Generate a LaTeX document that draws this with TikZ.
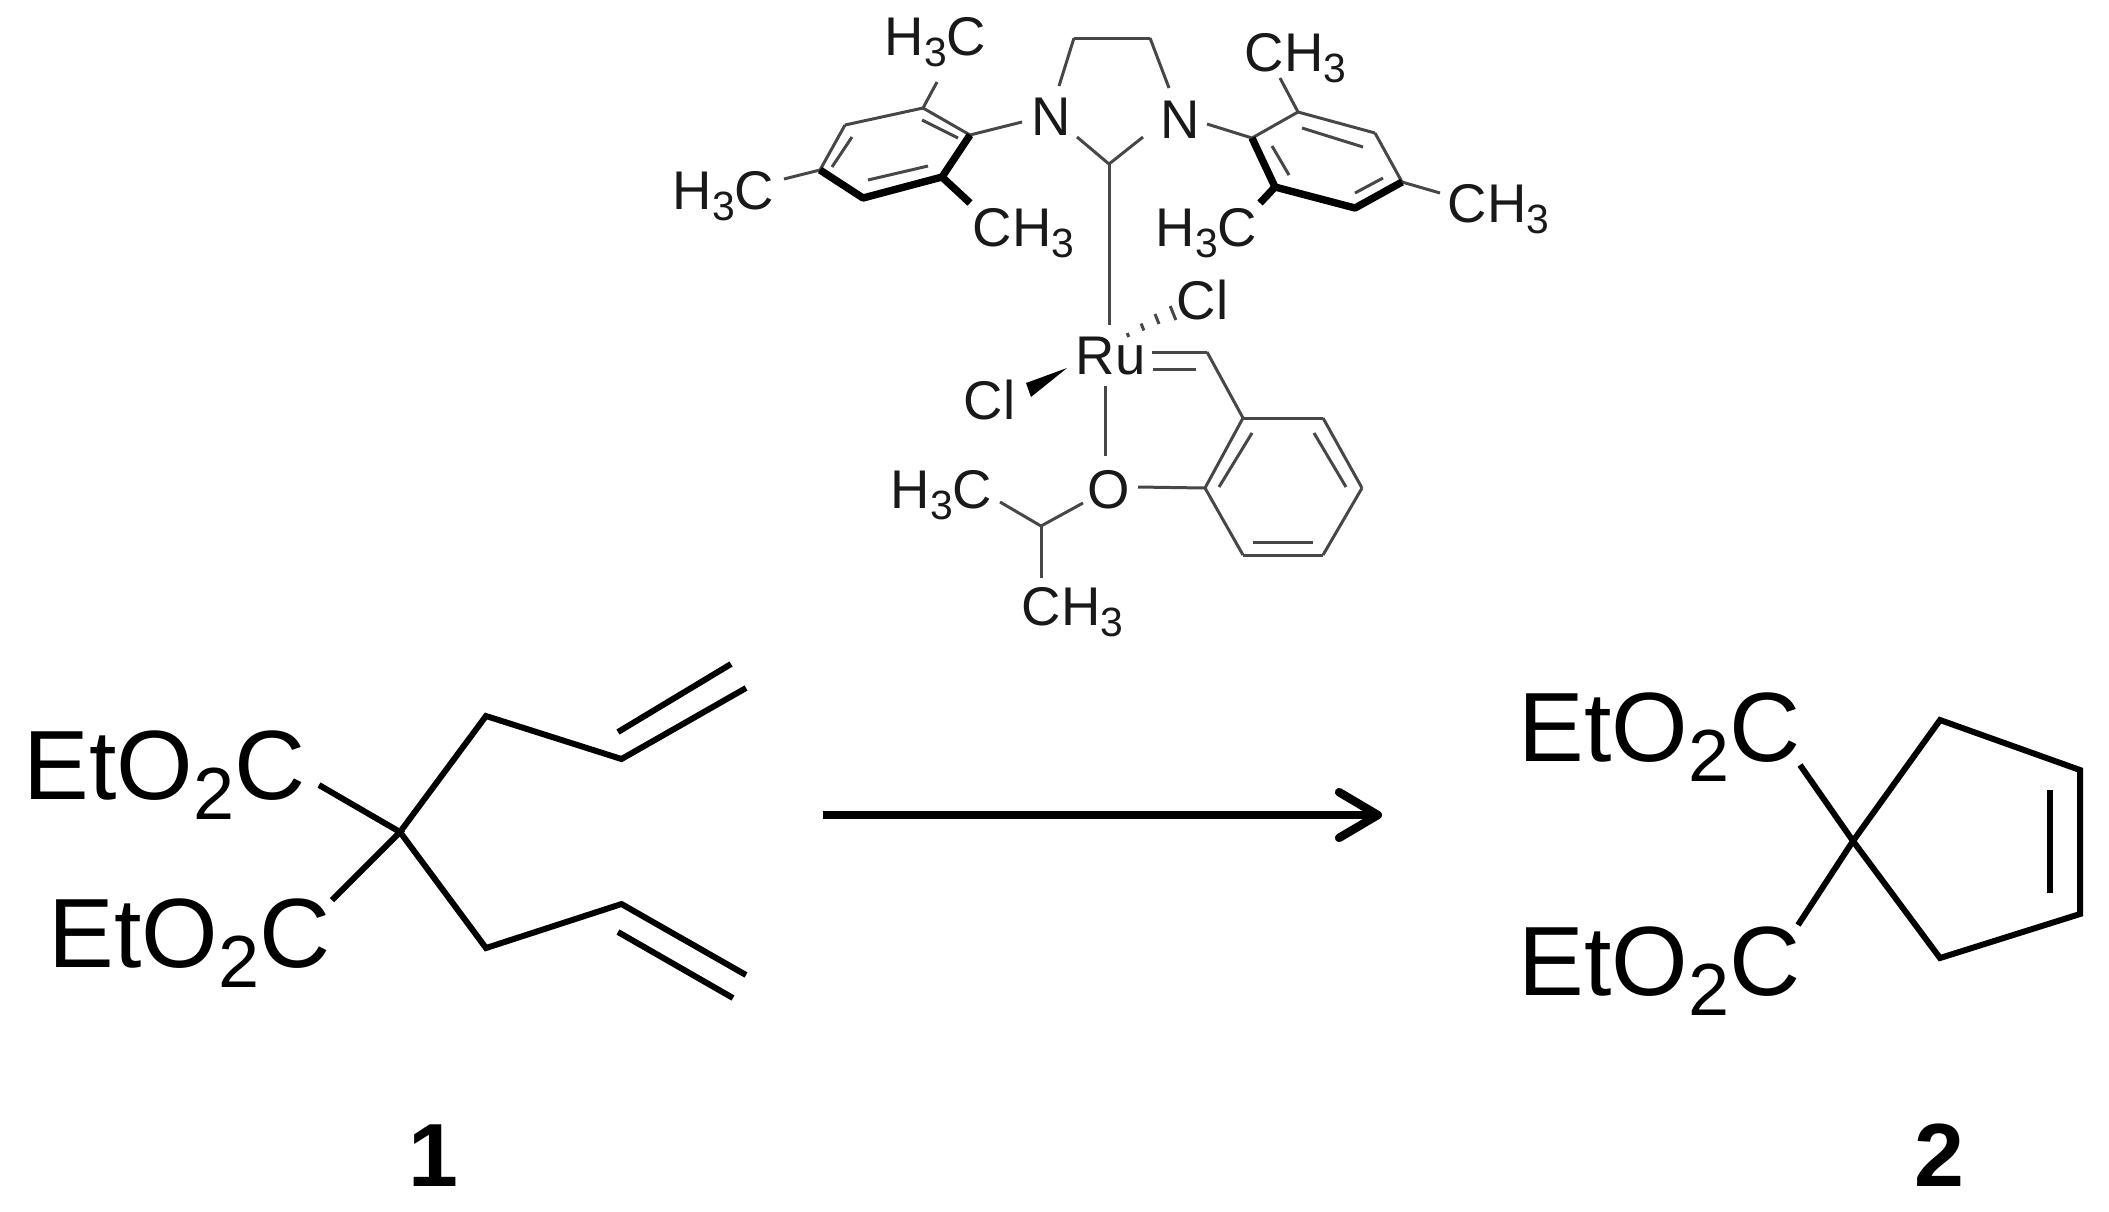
\documentclass[tikz,border=0pt]{standalone}
\usepackage{fontspec}
\setmainfont{Liberation Sans}
\usetikzlibrary{arrows.meta, positioning}
\newcommand{\sbs}[1]{\raisebox{-.21em}{\scalebox{.75}{#1}}}
\tikzset{
	bond/.style={line width=0.85pt, black!72},
	bold/.style={line width=2.1pt, line join=round, black},
	large/.style={line width=1.7pt, line join=miter, black},
	big/.style={inner sep=0, font=\fontsize{28}{30}\selectfont, anchor=base west},
	small/.style={inner sep=0, font=\fontsize{15.5}{17}\selectfont, text=black!90, anchor=base west},
	num/.style={inner sep=0, font=\fontsize{25.5}{30}\bfseries\selectfont, anchor=base}
}
\begin{document}
\begin{tikzpicture}[x=0.01cm, y=-0.01cm]
	\useasboundingbox (0,0) rectangle (2109,1211);

	% catalyst
	\foreach \n/\x/\y in {nlTop/1059/86, nrTop/1169/88, ringL/1074/38, ringR/1150/38, nlC/1077/137, nrC/1143/137, carb/1109/164,
		ruTop/1109/325, ruO/1105/386, oRu/1105/456,
		lIpso/970/135, lN/1022/122, lOrt/923/108, lMet/845/125, lPar/820/170, lMeb/863/198, lOrb/942/177,
		lMe1/937/82, lMe2/784/179, lMe3/970/203,
		lI1/922/120, lI2/958/138, lI3/832/167, lI4/852/137, lI5/868/180, lI6/928/166,
		rIpso/1252/138, rN/1207/124, rOrt/1298/112, rMet/1375/133, rPar/1402/182, rMeb/1355/208, rOrb/1275/187,
		rMe1/1280/78, rMe2/1440/193, rMe3/1260/203,
		rI1/1302/128, rI2/1363/147, rI3/1272/146, rI4/1289/175, rI5/1355/193, rI6/1383/178,
		dbA/1151.5/352, dbB/1207/352, dbC/1153/369, dbD/1196/369,
		arA/1243/418, arB/1323/418, arC/1362/488, arD/1323/555, arE/1243/555, arF/1205/488,
		arI1/1252/433, arI2/1219/487, arI3/1314/433, arI4/1346/487, arI5/1253/542, arI6/1313/542,
		oAr/1138/487, ipr/1041/526, iprO/1083/503, iprL/1000/502, iprD/1041/578,
		wedgeTip/1067/368, wedgeA/1026/383, wedgeB/1031/397}
		\coordinate (\n) at (\x,\y);

	\foreach \a/\b in {nlTop/ringL, ringL/ringR, ringR/nrTop, nlC/carb, nrC/carb, carb/ruTop, ruO/oRu,
		lN/lIpso, lIpso/lOrt, lOrt/lMet, lMet/lPar, lOrt/lMe1, lPar/lMe2, lI1/lI2, lI3/lI4, lI5/lI6,
		rN/rIpso, rIpso/rOrt, rOrt/rMet, rMet/rPar, rOrt/rMe1, rPar/rMe2, rI1/rI2, rI3/rI4, rI5/rI6,
		dbA/dbB, dbC/dbD, dbB/arA, arA/arB, arB/arC, arC/arD, arD/arE, arE/arF, arF/arA,
		arI1/arI2, arI3/arI4, arI5/arI6, oAr/arF, ipr/iprO, ipr/iprL, ipr/iprD}
		\draw[bond] (\a) -- (\b);

	\draw[bold] (lIpso) -- (lOrb) -- (lMeb) -- (lPar);
	\draw[bold] (rIpso) -- (rOrb) -- (rMeb) -- (rPar);
	\draw[bold] (lOrb) -- (lMe3);
	\draw[bold] (rOrb) -- (rMe3);
	\fill[black] (wedgeTip) -- (wedgeA) -- (wedgeB) -- cycle;
	\foreach \x/\y/\w in {1128/335/2, 1142.5/327/3.5, 1157/319/5, 1173/313/7}
		\draw[bond] ({\x-.4*\w},{\y-\w}) -- ({\x+.4*\w},{\y+\w});

	\node[small] (meA) at (884,55) {H\sbs{3}C};
	\node[small] (meB) at (1244,71) {CH\sbs{3}};
	\node[small] (meC) at (672,209) {H\sbs{3}C};
	\node[small] (meD) at (972,246) {CH\sbs{3}};
	\node[small] (meE) at (1155,246) {H\sbs{3}C};
	\node[small] (meF) at (1447,222) {CH\sbs{3}};
	\node[small] (meG) at (890,508) {H\sbs{3}C};
	\node[small] (meH) at (1021,625) {CH\sbs{3}};
	\node[small, anchor=base] (nL) at (1051,135) {N};
	\node[small, anchor=base] (nR) at (1180,138) {N};
	\node[small] (ru) at (1075,374) {Ru};
	\node[small] (clA) at (1176,319) {Cl};
	\node[small] (clB) at (963,419) {Cl};
	\node[small, anchor=base] (oxy) at (1109,508) {O};

	% substrate
	\foreach \n/\x/\y in {subC/400/832, subUa/486/716, subUb/621.5/759, subUc/746/688, subUd/618/732, subUe/731/664,
		subLa/486/948, subLb/621.5/904, subLc/746/975, subLd/618/932, subLe/733/998, subEu/319/785, subEl/332/900}
		\coordinate (\n) at (\x,\y);
	\draw[large] (subEu) -- (subC) -- (subEl);
	\draw[large] (subC) -- (subUa) -- (subUb) -- (subUc);
	\draw[large] (subC) -- (subLa) -- (subLb) -- (subLc);
	\draw[large] (subUd) -- (subUe);
	\draw[large] (subLd) -- (subLe);
	\node[big] (estA) at (23,799) {EtO\sbs{2}C};
	\node[big] (estB) at (48,967) {EtO\sbs{2}C};
	\node[num] (one) at (433,1186) {1};

	% arrow
	\coordinate (arrL) at (823,815);
	\coordinate (arrR) at (1382,815);
	\draw[-{Straight Barb[length=11pt, width=13pt, round]}, line width=2.4pt] (arrL) -- (arrR);

	% product
	\foreach \n/\x/\y in {proC/1853/841, proA/1940/720, proB/2080/770, proD/2080/914, proE/1940/958,
		proI/2050/790, proJ/2050/893, proEu/1800/765, proEl/1798/925}
		\coordinate (\n) at (\x,\y);
	\draw[large] (proC) -- (proA) -- (proB) -- (proD) -- (proE) -- cycle;
	\draw[large] (proEu) -- (proC) -- (proEl);
	\draw[large] (proI) -- (proJ);
	\node[big] (estC) at (1518,761) {EtO\sbs{2}C};
	\node[big] (estD) at (1518,995) {EtO\sbs{2}C};
	\node[num] (two) at (1939,1186) {2};
\end{tikzpicture}
\end{document}
